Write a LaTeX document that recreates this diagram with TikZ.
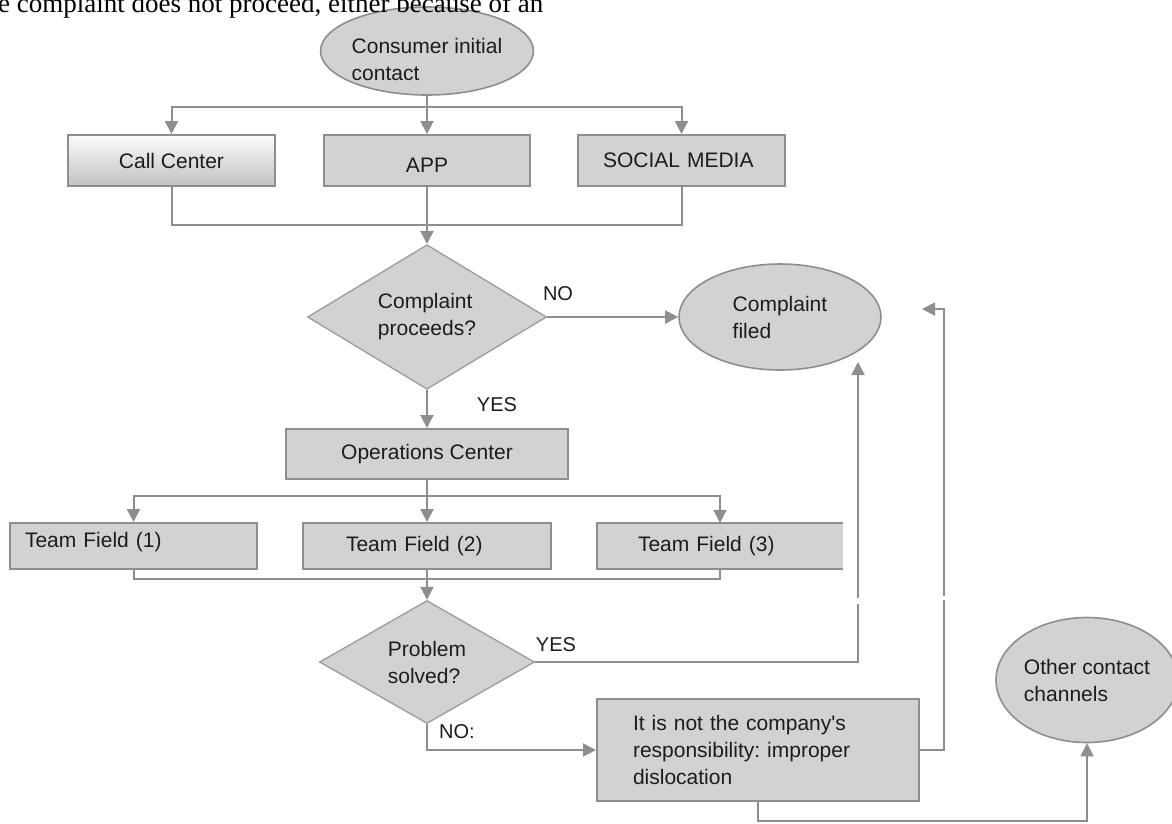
\documentclass[tikz,border=0pt]{standalone}
\usepackage{fontspec}
\setmainfont{Liberation Sans}
\newfontfamily\serifpage{Liberation Serif}
\usetikzlibrary{shapes.geometric,arrows.meta}
\definecolor{boxfill}{HTML}{D2D2D2}
\definecolor{boxline}{HTML}{8E8E8E}
\definecolor{connc}{HTML}{8E8E8E}
\definecolor{txt}{HTML}{1C1C1C}
\frenchspacing
\begin{document}
\begin{tikzpicture}[x=1pt,y=-1pt,
  every node/.style={text=txt, font=\fontsize{21}{27}\selectfont, inner sep=0pt},
  procbox/.style={rectangle, draw=boxline, fill=boxfill, line width=2pt},
  roundbox/.style={ellipse, draw=boxline, fill=boxfill, line width=1.6pt},
  decision/.style={diamond, draw=boxline!85, fill=boxfill, line width=1.4pt, align=left},
  conn/.style={draw=connc, line width=2pt},
  arr/.style={conn, -{Triangle[length=13pt,width=13pt]}},
  lbl/.style={font=\fontsize{20}{24}\selectfont}
]
\useasboundingbox (0,0) rectangle (1172,823);
\fill[white] (0,0) rectangle (1172,823);

% top
\node[roundbox, minimum width=208pt, minimum height=88pt] (cons) at (427,51) {\raisebox{-16pt}[0pt][0pt]{\begin{tabular}{@{}l@{}}Consumer initial\\contact\end{tabular}}};
\node[font=\serifpage\fontsize{27}{30}\selectfont, anchor=base west, text=black] (toptext) at (-2,12.5) {e complaint does not proceed, either because of an};

\node[procbox, top color=white!92!boxfill, bottom color=boxfill!92!black, draw=boxline, minimum width=207pt, minimum height=51pt] (call) at (171.5,160.5) {Call Center};
\node[procbox, minimum width=206pt, minimum height=51pt, text height=23pt, text depth=0pt] (app) at (427,160.5) {APP};
\node[procbox, minimum width=207pt, minimum height=51pt, text width=157pt, align=left] (sm) at (681.5,160.5) {SOCIAL MEDIA};

\coordinate (s1) at (427,107);
\draw[arr] (cons.south) -- (app.north);
\draw[arr] (cons.south |- s1) -| (call.north);
\draw[arr] (cons.south |- s1) -| (sm.north);

\node[decision, minimum width=239pt, minimum height=131pt] (d1) at (427,317) {Complaint\\proceeds?};
\coordinate (j1) at (427,225);
\draw[conn] (call.south) |- (j1) -| (sm.south);
\draw[arr] (app.south) -- (d1.north);

\node[roundbox, minimum width=202pt, minimum height=106pt, align=left] (filed) at (780,317) {Complaint\\filed};
\draw[arr] (d1.east) -- (filed.west);
\node[lbl] (no1) at (558,294) {NO};
\node[lbl] (yes1) at (497,405) {YES};

\node[procbox, minimum width=282pt, minimum height=50pt] (ops) at (427,454) {Operations Center};
\draw[arr] (d1.south) -- (ops.north);

\node[procbox, minimum width=247pt, minimum height=46pt, text width=217pt, align=left, text depth=12pt] (tf1) at (133.5,546) {Team Field (1)};
\node[procbox, minimum width=248pt, minimum height=46pt, text width=162pt, align=left] (tf2) at (427,546) {Team Field (2)};
\node[fill=boxfill, minimum width=246pt, minimum height=46pt, text width=164pt, align=left] (tf3) at (720,546) {Team Field (3)};
\draw[draw=boxline, line width=2pt] (tf3.north east) -- (tf3.north west) -- (tf3.south west) -- (tf3.south east);

\coordinate (s2) at (427,496);
\draw[conn] (ops.south) -- (s2);
\draw[arr] (s2) -- (tf2.north);
\draw[arr] (s2) -| (tf1.north);
\draw[arr] (s2) -| (tf3.north);

\node[decision, minimum width=215pt, minimum height=123pt] (d2) at (427,662) {Problem\\solved?};
\coordinate (j2) at (427,579);
\draw[conn] (tf1.south) |- (j2) -| (tf3.south);
\draw[arr] (tf2.south) -- (d2.north);

\node[lbl] (yes2) at (556,645) {YES};
\node[lbl] (no2) at (457,732) {NO:};
\coordinate (fy) at (858,362);
\draw[arr] (d2.east) -| (fy);

\node[procbox, minimum width=322pt, minimum height=102pt, text width=250pt, align=left] (resp) at (758,750) {It is not the company\textquotesingle s\\responsibility: improper\\dislocation};
\draw[arr] (d2.south) |- (resp.west);

\node[roundbox, minimum width=182pt, minimum height=125pt, align=left] (other) at (1087,680) {Other contact\\channels};
\coordinate (bot) at (0,821);
\draw[arr] (resp.south) -- (resp.south |- bot) -| (other.south);

\coordinate (rc) at (944,309);
\coordinate (rt) at (922,309);
\draw[arr] (resp.east) -| (rc) -- (rt);

\fill[white] (854,598) rectangle (862,604);
\fill[white] (940,596) rectangle (948,600);
\end{tikzpicture}
\end{document}
